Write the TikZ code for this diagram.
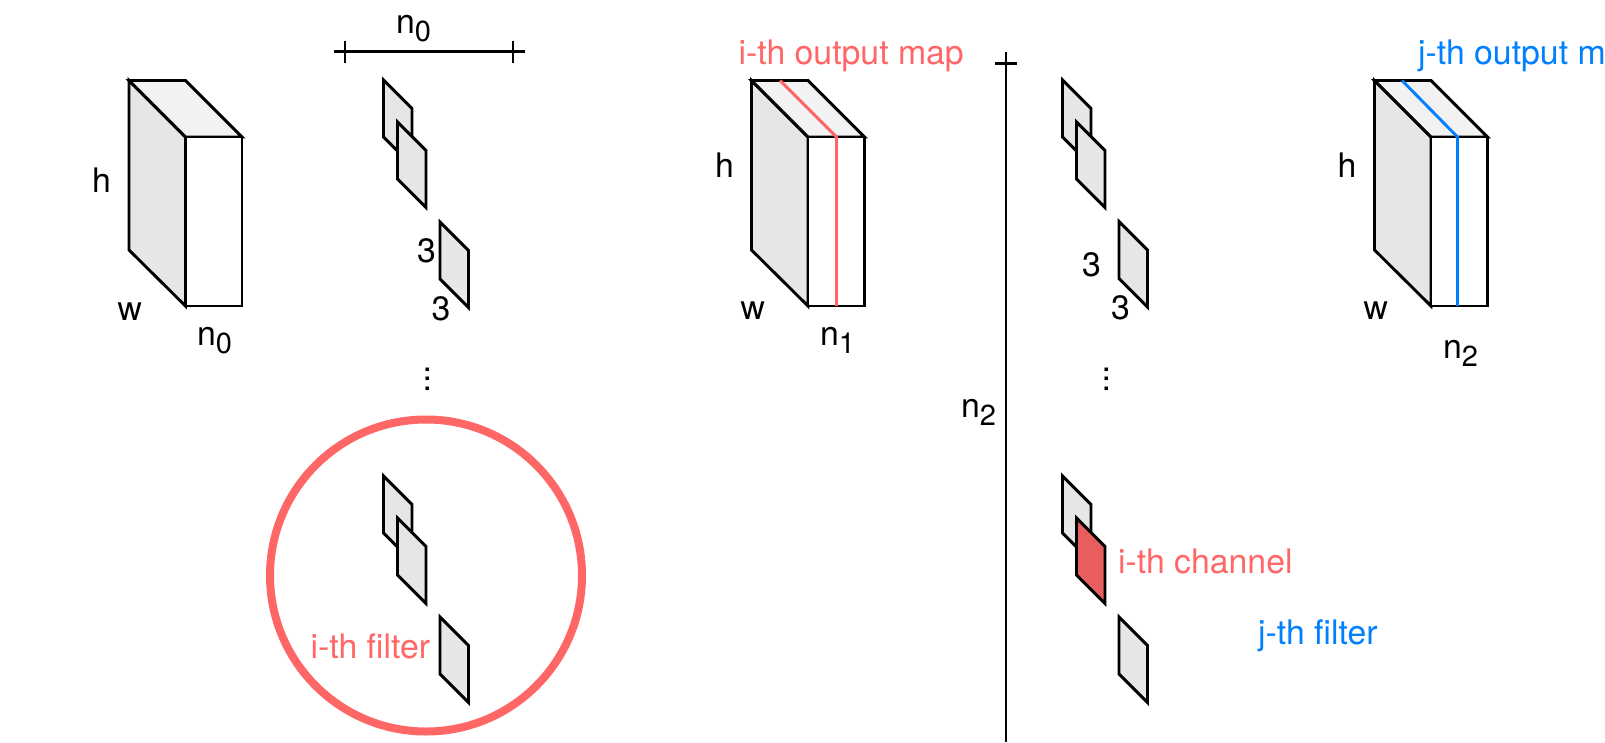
\documentclass[tikz,border=0pt]{standalone}
\usepackage{fontspec}
\setmainfont{TeX Gyre Heros}
\definecolor{redline}{HTML}{FF6666}
\definecolor{redfill}{HTML}{E85D5D}
\definecolor{blueline}{HTML}{007FFF}
\definecolor{sidegray}{HTML}{E6E6E6}
\definecolor{topgray}{HTML}{F2F2F2}
\newcommand{\lowidx}[1]{\raisebox{-8.5pt}{\fontsize{29}{29}\selectfont #1}}
\tikzset{
  x=1pt, y=-1pt,
  lbl/.style={anchor=base west, inner sep=0pt, outer sep=0pt, font=\fontsize{33.8}{36}\selectfont},
  edge/.style={draw=black, line width=2.9pt, line join=miter},
  thinrule/.style={draw=black, line width=2.7pt},
  accent/.style={line width=2.9pt},
  pics/cube/.style={code={
    \path[edge, fill=sidegray] (0,0) -- (56.5,56.5) -- (56.5,225.5) -- (0,169.5) -- cycle;
    \path[edge, fill=topgray] (0,0) -- (56.5,0) -- (113,56.5) -- (56.5,56.5) -- cycle;
    \path[edge, fill=white] (56.5,56.5) rectangle (113,225.5);
  }},
  pics/filter/.style={code={
    \path[edge, fill=#1] (0,0) -- (28.5,28.5) -- (28.5,85.5) -- (0,57) -- cycle;
  }},
}
\begin{document}
\begin{tikzpicture}
\useasboundingbox (0,0) rectangle (1605,742);
% cubes
\pic at (129,80.5) {cube};
\pic at (751.5,80.5) {cube};
\pic at (1374.5,80.5) {cube};
\coordinate (rt) at (780,80.5); \coordinate (rm) at (836.5,137); \coordinate (rb) at (836.5,306);
\draw[accent, draw=redline] (rt) -- (rm) -- (rb);
\coordinate (bt) at (1402,80.5); \coordinate (bm) at (1457.5,137); \coordinate (bb) at (1457.5,306);
\draw[accent, draw=blueline] (bt) -- (bm) -- (bb);
% filters, upper left
\pic at (383.5,80) {filter=sidegray};
\pic at (397.5,122) {filter=sidegray};
\pic at (440,222) {filter=sidegray};
% filters, lower left
\pic at (383.5,476) {filter=sidegray};
\pic at (397.5,518) {filter=sidegray};
\pic at (440,617) {filter=sidegray};
% filters, upper right
\pic at (1062.5,80) {filter=sidegray};
\pic at (1076.5,122) {filter=sidegray};
\pic at (1119,221.5) {filter=sidegray};
% filters, lower right
\pic at (1062.5,476) {filter=sidegray};
\pic at (1076.5,518) {filter=redfill};
\pic at (1119,617) {filter=sidegray};
% circle
\coordinate (cc) at (426,575.5);
\draw[draw=redline, line width=8pt] (cc) circle[radius=156];
% rulers
\coordinate (ra) at (334,51.7); \coordinate (rz) at (525,51.7);
\draw[thinrule] (ra) -- (rz);
\coordinate (t1a) at (345,41); \coordinate (t1b) at (345,63);
\coordinate (t2a) at (513,41); \coordinate (t2b) at (513,63);
\draw[thinrule] (t1a) -- (t1b);
\draw[thinrule] (t2a) -- (t2b);
\coordinate (va) at (1006,52); \coordinate (vz) at (1006,742);
\draw[thinrule] (va) -- (vz);
\coordinate (ca) at (995,63.3); \coordinate (cz) at (1017,63.3);
\draw[thinrule] (ca) -- (cz);
% labels
\node[lbl] (h1) at (92,192) {h};
\node[lbl] (w1) at (117.5,320) {w};
\node[lbl] (n0a) at (197,345) {n\lowidx{0}};
\node[lbl] (n0b) at (396,33) {n\lowidx{0}};
\node[lbl] (t3a) at (417,262) {3};
\node[lbl] (t3b) at (431.5,320) {3};
\node[lbl, rotate=90] (da) at (429,393) {...};
\node[lbl, text=redline] (iout) at (738.5,64) {i-th output map};
\node[lbl] (h2) at (715,177) {h};
\node[lbl] (w2) at (740.5,319) {w};
\node[lbl] (n1) at (820,345) {n\lowidx{1}};
\node[lbl] (t3c) at (1082,276) {3};
\node[lbl] (t3d) at (1111,319) {3};
\node[lbl, rotate=90] (db) at (1108,393) {...};
\node[lbl] (n2a) at (961,417) {n\lowidx{2}};
\node[lbl, text=blueline] (jout) at (1418,64) {j-th output m};
\node[lbl] (h3) at (1337.5,177) {h};
\node[lbl] (w3) at (1363.5,319) {w};
\node[lbl] (n2b) at (1443,358) {n\lowidx{2}};
\node[lbl, text=redline] (ifil) at (310.5,658) {i-th filter};
\node[lbl, text=redline] (ich) at (1118,573) {i-th channel};
\node[lbl, text=blueline] (jfil) at (1258,644) {j-th filter};
\end{tikzpicture}
\end{document}
